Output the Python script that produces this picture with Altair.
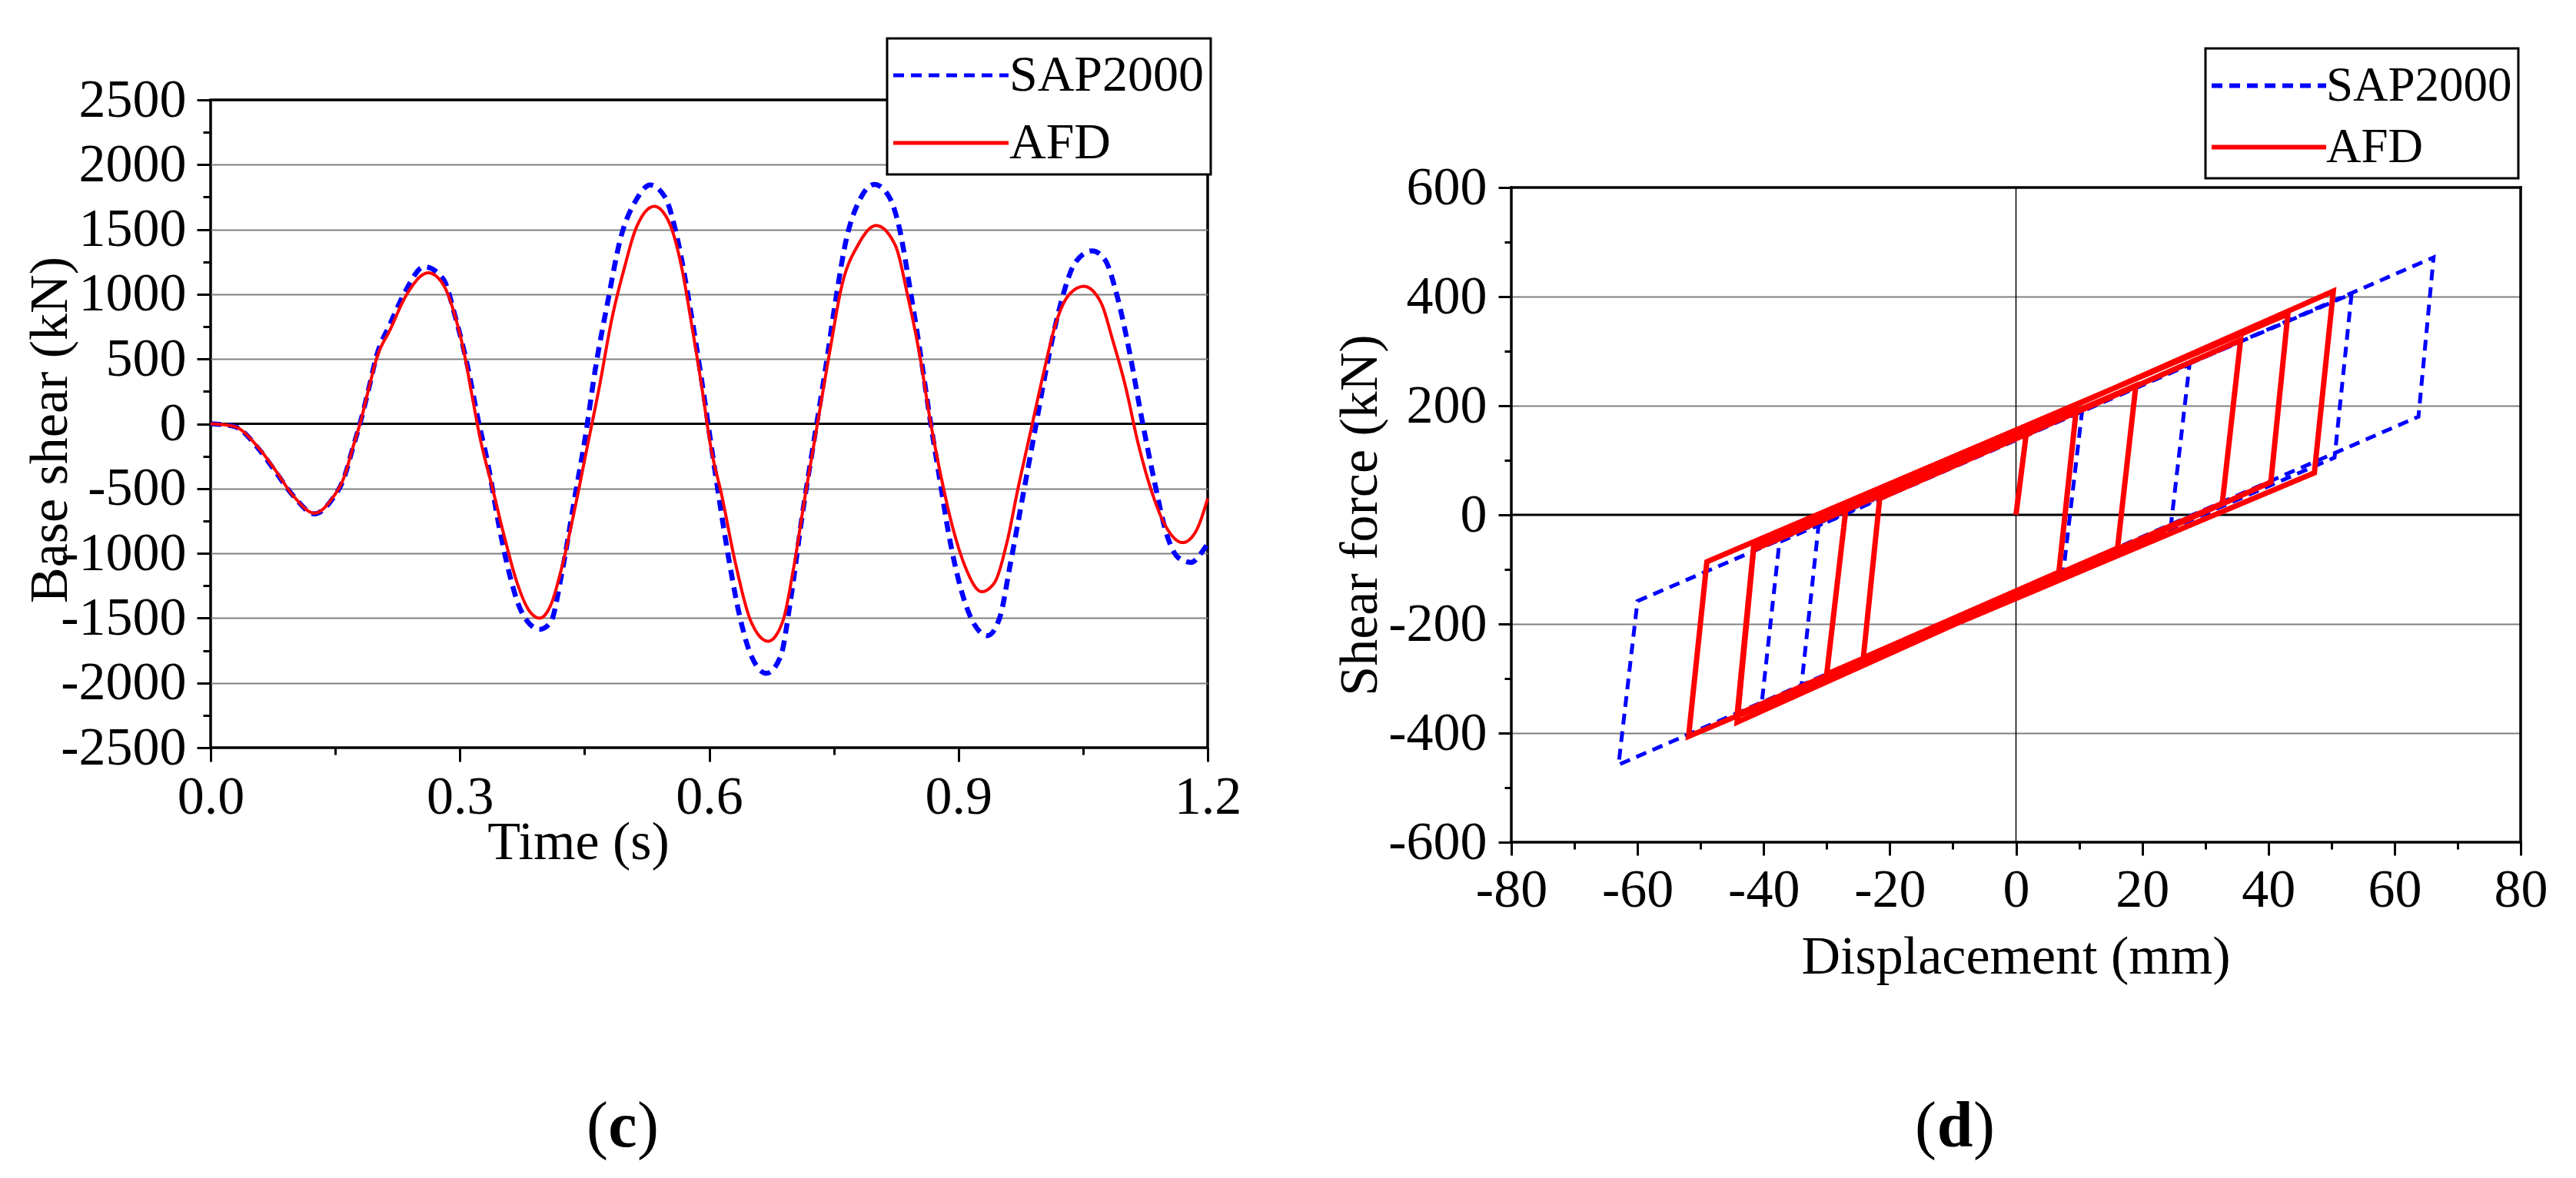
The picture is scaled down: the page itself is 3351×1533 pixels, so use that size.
import math
import altair as alt
import pandas as pd

FONT = "Liberation Serif"

# ---------------- panel (c): base shear time history ----------------
series_names = ["SAP2000", "AFD"]

sap_t = [0.000, 0.028, 0.057, 0.077, 0.100, 0.125, 0.146, 0.161, 0.171, 0.181,
         0.191, 0.200, 0.216, 0.235, 0.257, 0.280, 0.295, 0.310, 0.322, 0.334,
         0.346, 0.359, 0.374, 0.396, 0.409, 0.423, 0.438, 0.451, 0.463, 0.478,
         0.493, 0.512, 0.529, 0.547, 0.562, 0.577, 0.590, 0.600, 0.612, 0.624,
         0.637, 0.651, 0.669, 0.686, 0.698, 0.712, 0.728, 0.740, 0.752, 0.765,
         0.781, 0.799, 0.817, 0.829, 0.841, 0.854, 0.866, 0.878, 0.888, 0.903,
         0.918, 0.935, 0.950, 0.962, 0.977, 0.992, 1.007, 1.022, 1.041, 1.061,
         1.076, 1.091, 1.106, 1.121, 1.136, 1.150, 1.165, 1.180, 1.193, 1.200]
sap_v = [0, -20, -187, -360, -560, -695, -585, -410, -190, 30,
         290, 530, 770, 1030, 1213, 1117, 813, 422, 30, -317,
         -752, -1143, -1448, -1587, -1535, -1143, -578, -100, 422, 943,
         1422, 1726, 1843, 1748, 1422, 900, 378, -57, -578, -1057,
         -1491, -1796, -1926, -1796, -1361, -709, -57, 422, 943, 1422,
         1726, 1848, 1748, 1509, 1074, 552, 30, -448, -839, -1274,
         -1535, -1635, -1491, -1100, -578, -57, 465, 900, 1248, 1335,
         1270, 987, 552, 30, -448, -839, -1035, -1070, -991, -926]

afd_t = [0.000, 0.028, 0.057, 0.077, 0.100, 0.125, 0.146, 0.161, 0.171, 0.181,
         0.191, 0.200, 0.216, 0.235, 0.262, 0.280, 0.295, 0.305, 0.315, 0.324,
         0.339, 0.354, 0.369, 0.384, 0.396, 0.409, 0.423, 0.438, 0.453, 0.468,
         0.483, 0.498, 0.512, 0.534, 0.552, 0.567, 0.580, 0.592, 0.601, 0.616,
         0.631, 0.651, 0.671, 0.688, 0.702, 0.715, 0.730, 0.745, 0.760, 0.779,
         0.801, 0.824, 0.839, 0.854, 0.866, 0.879, 0.893, 0.908, 0.928, 0.943,
         0.958, 0.972, 0.987, 1.002, 1.017, 1.032, 1.051, 1.071, 1.086, 1.101,
         1.116, 1.131, 1.150, 1.170, 1.185, 1.200]
afd_v = [0, -20, -180, -350, -560, -690, -578, -404, -187, 30,
         290, 509, 726, 987, 1165, 1074, 813, 552, 204, -100,
         -491, -883, -1230, -1448, -1500, -1404, -1100, -665, -187, 291,
         813, 1204, 1509, 1678, 1552, 1204, 726, 248, -143, -578,
         -1057, -1535, -1678, -1535, -1100, -578, -13, 552, 1074, 1378,
         1530, 1378, 987, 509, 30, -404, -796, -1100, -1296, -1230,
         -926, -491, -57, 378, 770, 987, 1061, 943, 639, 291,
         -143, -491, -796, -917, -839, -578]

time_ticks = [0.0, 0.3, 0.6, 0.9, 1.2]
time_minor = [0.15, 0.45, 0.75, 1.05]
shear_ticks = [-2500, -2000, -1500, -1000, -500, 0, 500, 1000, 1500, 2000, 2500]
shear_minor = [-2250, -1750, -1250, -750, -250, 250, 750, 1250, 1750, 2250]
shear_grid = [-2000, -1500, -1000, -500, 500, 1000, 1500, 2000]

# ---------------- panel (d): hysteresis loops ----------------
sap_disp = [0.0, 1.5, 10.5, 7.5, -34.0, -31.3, 27.5, 24.5, -40.3, -37.5,
            66.2, 63.8, -63.0, -60.0, 53.2, 50.5, 20.0]
sap_force = [0, 145, 192, -105, -312, -20, 275, -25, -345, -50,
             472, 180, -458, -158, 405, 105, -48]

afd_disp = [0.0, 1.6, 9.6, 6.8, -24.2, -21.6, 35.6, 32.7, -44.2, -41.6,
            50.3, 47.3, -51.9, -49.0, 43.1, 40.4, -44.2, -41.6, 19.0, 16.1,
            -30.0, -27.0]
afd_force = [0, 146, 198, -105, -262, 30, 320, 21, -366, -60,
             410, 77, -406, -86, 368, 60, -380, -64, 237, -61,
             -292, 7]

disp_ticks = [-80, -60, -40, -20, 0, 20, 40, 60, 80]
disp_minor = [-70, -50, -30, -10, 10, 30, 50, 70]
force_ticks = [-600, -400, -200, 0, 200, 400, 600]
force_minor = [-500, -300, -100, 100, 300, 500]
force_grid = [-400, -200, 200, 400]

# ---------------- tables ----------------
df_c_sap = pd.DataFrame({"t": sap_t, "v": sap_v, "series": "SAP2000"})
df_c_afd = pd.DataFrame({"t": afd_t, "v": afd_v, "series": "AFD"})
df_d_sap = pd.DataFrame({"d": sap_disp, "f": sap_force, "series": "SAP2000",
                         "i": list(range(len(sap_disp)))})
df_d_afd = pd.DataFrame({"d": afd_disp, "f": afd_force, "series": "AFD",
                         "i": list(range(len(afd_disp)))})
zero_df = pd.DataFrame({"z": [0]})

dmin, dmax = disp_ticks[0], disp_ticks[-1]
fmin, fmax = force_ticks[0], force_ticks[-1]
frame_df = pd.DataFrame({"x": [dmin, dmin, dmax, dmin], "x2": [dmax, dmin, dmax, dmax],
                         "y": [fmax, fmin, fmin, fmin], "y2": [fmax, fmax, fmax, fmin]})
vzero_df = pd.DataFrame({"x": [0], "y": [fmin], "y2": [fmax]})

BLUE = "#0000ff"
RED = "#ff0000"


def legend(x, y, size, length, sw, row_pad, label_off):
    half = length / 2.0
    entry = math.ceil(half + sw)
    return alt.Legend(title=None, orient="none", legendX=x, legendY=y,
                      symbolType="M-2,0L2,0", symbolSize=half * half,
                      symbolStrokeWidth=sw, symbolOffset=half - entry / 2.0,
                      labelFont=FONT, labelFontSize=size,
                      labelColor="black", labelLimit=0,
                      labelOffset=label_off,
                      rowPadding=row_pad, padding=8)


def panel_label(letter, cx, by, half):
    base = alt.Chart(zero_df)
    common = dict(font=FONT, fontSize=84, baseline="alphabetic", color="black")
    lp = base.mark_text(text="(", align="right", **common).encode(
        x=alt.value(cx - half), y=alt.value(by))
    mid = base.mark_text(text=letter, align="center", fontWeight="bold", **common).encode(
        x=alt.value(cx), y=alt.value(by))
    rp = base.mark_text(text=")", align="left", **common).encode(
        x=alt.value(cx + half), y=alt.value(by))
    return [lp, mid, rp]


AX = dict(labelFlush=False, labelOverlap=False, domain=False)

# ---------------- left panel ----------------
W_C, H_C = 1297, 843
xs_c = alt.Scale(domain=[0, 1.2], nice=False, zero=False)
ys_c = alt.Scale(domain=[-2500, 2500], nice=False, zero=False)
leg_c = legend(880, -80, 66, 150, 5, 15, 36)
color_c = alt.Color("series:N", scale=alt.Scale(domain=series_names, range=[BLUE, RED]), legend=leg_c)
dash_c = alt.StrokeDash("series:N", scale=alt.Scale(domain=series_names, range=[[14, 9], [1, 0]]), legend=leg_c)

ax_x_c = alt.Axis(values=time_ticks, labelExpr="format(datum.value, '.1f')", tickSize=18,
                  labelPadding=12, grid=False, orient="bottom",
                  title="Time (s)", titleX=478, titleY=144, titleAlign="center",
                  titleBaseline="alphabetic", **AX)
ax_y_c = alt.Axis(values=shear_ticks, labelExpr="toString(datum.value)", tickSize=18,
                  labelPadding=14, grid=False, orient="left",
                  title="Base shear (kN)", titleX=-188, titleY=429, titleAngle=270,
                  titleAlign="center", titleBaseline="alphabetic", **AX)
minor_x_c = alt.Axis(values=time_minor, tickSize=9, labels=False, grid=False,
                     orient="bottom", title="", **AX)
minor_y_c = alt.Axis(values=shear_minor, tickSize=10, labels=False, grid=False,
                     orient="left", title="", **AX)
grid_y_c = alt.Axis(values=shear_grid, ticks=False, labels=False, grid=True,
                    gridColor="#808080", gridWidth=2, orient="left", title="", **AX)

zero_c = alt.Chart(zero_df).mark_rule(color="black", strokeWidth=3).encode(
    y=alt.Y("z:Q", scale=ys_c, axis=grid_y_c))
sap_c = alt.Chart(df_c_sap).mark_line(interpolate="monotone", strokeWidth=6.5, strokeCap="butt").encode(
    x=alt.X("t:Q", scale=xs_c, axis=ax_x_c),
    y=alt.Y("v:Q", scale=ys_c, axis=ax_y_c),
    color=color_c, strokeDash=dash_c)
afd_c = alt.Chart(df_c_afd).mark_line(interpolate="monotone", strokeWidth=4).encode(
    x=alt.X("t:Q", scale=xs_c, axis=None),
    y=alt.Y("v:Q", scale=ys_c, axis=None),
    color=color_c, strokeDash=dash_c)
minor_c = alt.Chart(df_c_sap).mark_line(opacity=0).encode(
    x=alt.X("t:Q", scale=xs_c, axis=minor_x_c),
    y=alt.Y("v:Q", scale=ys_c, axis=minor_y_c))

left = alt.layer(zero_c, sap_c, afd_c, minor_c, *panel_label("c", 536, 1362, 19)).resolve_axis(
    x="independent", y="independent").properties(width=W_C, height=H_C)

# ---------------- right panel ----------------
# The right figure sits lower than the left one; its view is extended upward by
# TOP_GAP pixels (free space for the legend) and the frame is drawn at +/-600 kN.
W_D, H_D, TOP_GAP = 1313, 852, 114
f_top = fmax + TOP_GAP * (fmax - fmin) / H_D
xs_d = alt.Scale(domain=[dmin, dmax], nice=False, zero=False)
ys_d = alt.Scale(domain=[fmin, f_top], nice=False, zero=False)
leg_d = legend(903, -67, 63, 149, 6, 7, 34)
color_d = alt.Color("series:N", scale=alt.Scale(domain=series_names, range=[BLUE, RED]), legend=leg_d)
dash_d = alt.StrokeDash("series:N", scale=alt.Scale(domain=series_names, range=[[14, 9], [1, 0]]), legend=leg_d)

ax_x_d = alt.Axis(values=disp_ticks, labelExpr="toString(datum.value)", tickSize=17,
                  labelPadding=11, grid=False, orient="bottom",
                  title="Displacement (mm)", titleX=656, titleY=170, titleAlign="center",
                  titleBaseline="alphabetic", **AX)
ax_y_d = alt.Axis(values=force_ticks, labelExpr="toString(datum.value)", tickSize=17,
                  labelPadding=15, grid=False, orient="left",
                  title="Shear force (kN)", titleX=-176, titleY=TOP_GAP + 426, titleAngle=270,
                  titleAlign="center", titleBaseline="alphabetic", **AX)
minor_x_d = alt.Axis(values=disp_minor, tickSize=9, labels=False, grid=False,
                     orient="bottom", title="", **AX)
minor_y_d = alt.Axis(values=force_minor, tickSize=9, labels=False, grid=False,
                     orient="left", title="", **AX)
grid_y_d = alt.Axis(values=force_grid, ticks=False, labels=False, grid=True,
                    gridColor="#808080", gridWidth=2, orient="left", title="", **AX)

zero_dy = alt.Chart(zero_df).mark_rule(color="black", strokeWidth=3).encode(
    y=alt.Y("z:Q", scale=ys_d, axis=grid_y_d))
zero_dx = alt.Chart(vzero_df).mark_rule(color="black", strokeWidth=1.5).encode(
    x=alt.X("x:Q", scale=xs_d, axis=None),
    y=alt.Y("y:Q", scale=ys_d, axis=None), y2="y2:Q")
frame_d = alt.Chart(frame_df).mark_rule(color="black", strokeWidth=3.5, strokeCap="square").encode(
    x=alt.X("x:Q", scale=xs_d, axis=None), x2="x2:Q",
    y=alt.Y("y:Q", scale=ys_d, axis=None), y2="y2:Q")
sap_d = alt.Chart(df_d_sap).mark_line(strokeWidth=5, strokeCap="butt").encode(
    x=alt.X("d:Q", scale=xs_d, axis=ax_x_d),
    y=alt.Y("f:Q", scale=ys_d, axis=ax_y_d),
    order="i:Q", color=color_d, strokeDash=dash_d)
afd_d = alt.Chart(df_d_afd).mark_line(strokeWidth=7).encode(
    x=alt.X("d:Q", scale=xs_d, axis=None),
    y=alt.Y("f:Q", scale=ys_d, axis=None),
    order="i:Q", color=color_d, strokeDash=dash_d)
minor_d = alt.Chart(df_d_sap).mark_line(opacity=0).encode(
    x=alt.X("d:Q", scale=xs_d, axis=minor_x_d),
    y=alt.Y("f:Q", scale=ys_d, axis=minor_y_d),
    order="i:Q")

right = alt.layer(zero_dy, zero_dx, frame_d, sap_d, afd_d, minor_d,
                  *panel_label("d", 577, TOP_GAP + 1248, 24)).resolve_axis(
    x="independent", y="independent").properties(
    width=W_D, height=H_D + TOP_GAP, view=alt.ViewBackground(strokeOpacity=0))

chart = alt.hconcat(left, right, spacing=117).resolve_scale(
    color="independent", strokeDash="independent"
).resolve_legend(
    color="independent", strokeDash="independent"
).properties(
    padding={"left": 20, "top": 38, "right": 5, "bottom": 5}
).configure_view(
    stroke="black", strokeWidth=3.5
).configure_axis(
    labelFont=FONT, titleFont=FONT, labelFontSize=70, titleFontSize=70,
    titleFontWeight="normal", labelColor="black", titleColor="black",
    tickColor="black", tickWidth=3
).configure_legend(
    strokeColor="black", fillColor="white", strokeWidth=3, labelFont=FONT
)

chart.save("out.html", embed_options={"renderer": "svg", "actions": False})
